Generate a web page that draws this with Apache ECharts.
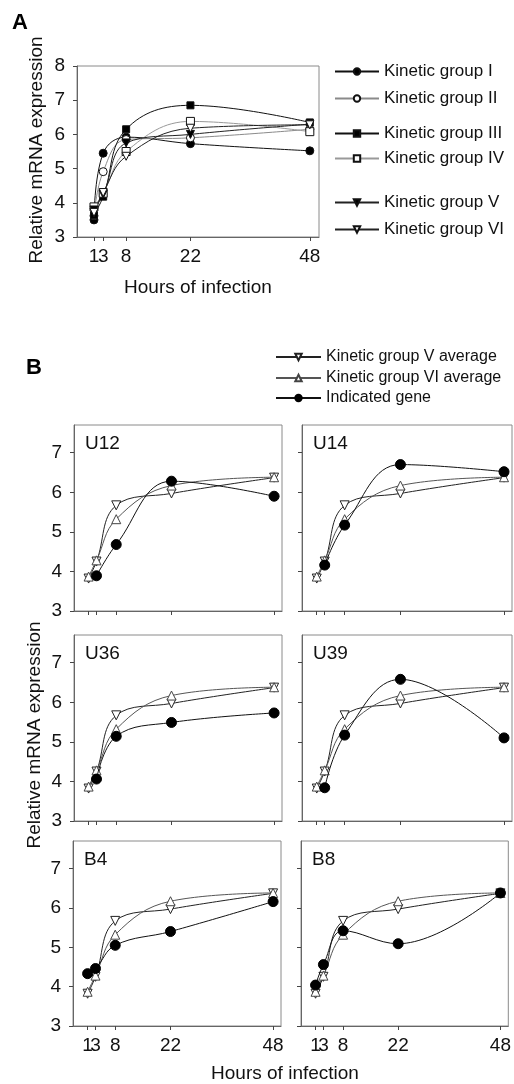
<!DOCTYPE html>
<html>
<head>
<meta charset="utf-8">
<script src="https://cdn.jsdelivr.net/npm/echarts@6/dist/echarts.min.js"></script>
<style>
html,body{margin:0;padding:0;background:#fff;}
#chart{width:514px;height:1084px;}
</style>
</head>
<body>
<div id="chart"></div>
<script>
// ---- data ----
const hours = [1, 3, 8, 22, 48];
const xTickValues = [1, 3, 8, 22, 48];
const yTicksA = [3, 4, 5, 6, 7, 8];
const yTicksB = [3, 4, 5, 6, 7];

const groupNames = ['Kinetic group I', 'Kinetic group II', 'Kinetic group III', 'Kinetic group IV', 'Kinetic group V', 'Kinetic group VI'];
const groupI   = [3.50, 5.45, 5.92, 5.73, 5.52];
const groupII  = [3.62, 4.91, 5.85, 5.90, 6.15];
const groupIII = [3.64, 4.18, 6.15, 6.85, 6.35];
const groupIV  = [3.88, 4.28, 5.50, 6.38, 6.08];
const groupV   = [3.79, 4.25, 5.75, 6.00, 6.30];
const groupVI  = [3.72, 4.30, 5.36, 6.18, 6.28];

const legendB = ['Kinetic group V average', 'Kinetic group VI average', 'Indicated gene'];
const avgV  = [3.82, 4.25, 5.67, 5.97, 6.37];
const avgVI = [3.87, 4.28, 5.32, 6.17, 6.38];

const panelNames = ['U12', 'U14', 'U36', 'U39', 'B4', 'B8'];
const geneU12 = [null, 3.89, 4.68, 6.28, 5.90];
const geneU14 = [null, 4.16, 5.17, 6.70, 6.52];
const geneU36 = [null, 4.06, 5.14, 5.49, 5.73];
const geneU39 = [null, 3.84, 5.17, 6.58, 5.10];
const geneB4  = [4.33, 4.46, 5.05, 5.40, 6.16];
const geneB8  = [4.04, 4.56, 5.42, 5.09, 6.38];
const genes = [geneU12, geneU14, geneU36, geneU39, geneB4, geneB8];

// labels split over two axes so the close "1" and "3" are both drawn
const xLabelsMain = xTickValues.filter((v, i) => i % 2 === 0 || i === 3);   // 1, 8, 22, 48
const xLabelsExtra = xTickValues.filter(v => xLabelsMain.indexOf(v) < 0);   // 3

// ---- layout ----
const FONT = 'Liberation Sans, Arial, Helvetica, sans-serif';
const gridA = {left: 77, top: 66, width: 242, height: 171};
const gridsB = [
  {left: 74, top: 425, width: 208, height: 186},
  {left: 302, top: 425, width: 210, height: 186},
  {left: 74, top: 635, width: 208, height: 186},
  {left: 302, top: 635, width: 210, height: 186},
  {left: 73, top: 841, width: 208, height: 185},
  {left: 301, top: 841, width: 211, height: 185}
];

function pairs(vals) {
  const out = [];
  vals.forEach((v, i) => { if (v !== null) out.push([hours[i], v]); });
  return out;
}

const grids = [gridA].concat(gridsB).map(g => Object.assign({
  show: true, borderColor: '#8a8a8a', borderWidth: 1, containLabel: false, backgroundColor: 'transparent'
}, g));

function xAxisFor(i, showLabel, labels, lineShow) {
  return {
    type: 'value', gridIndex: i, min: -2.7, max: 50, position: 'bottom', offset: 0,
    axisLine: {show: lineShow, onZero: false, lineStyle: {color: '#666', width: 1}},
    axisTick: {show: lineShow, inside: false, length: 4, customValues: xTickValues, lineStyle: {color: '#444'}},
    axisLabel: {show: showLabel, customValues: labels, hideOverlap: false,
      fontSize: 19, color: '#111', fontFamily: FONT, margin: 10},
    splitLine: {show: false}
  };
}
function yAxisFor(i, showLabel, maxV, ticks) {
  return {
    type: 'value', gridIndex: i, min: 3, max: maxV, position: 'left',
    axisLine: {show: true, onZero: false, lineStyle: {color: '#666', width: 1}},
    axisTick: {show: true, inside: false, length: 4, customValues: ticks, lineStyle: {color: '#444'}},
    axisLabel: {show: showLabel, customValues: ticks, hideOverlap: false,
      fontSize: 19, color: '#111', fontFamily: FONT, margin: 12},
    splitLine: {show: false}
  };
}

const xAxes = [xAxisFor(0, true, xLabelsMain, true)];
const yAxes = [yAxisFor(0, true, 8, yTicksA)];
gridsB.forEach((g, k) => {
  xAxes.push(xAxisFor(k + 1, k >= 4, xLabelsMain, true));
  yAxes.push(yAxisFor(k + 1, k % 2 === 0, 7.7, yTicksB));
});
// extra label-only axes
[0, 5, 6].forEach(gi => xAxes.push(xAxisFor(gi, true, xLabelsExtra, false)));

const styleA = [
  {vals: groupI,   symbol: 'circle',   rot: 0,   fill: '#000', line: '#111', size: 8},
  {vals: groupII,  symbol: 'circle',   rot: 0,   fill: '#fff', line: '#8a8a8a', size: 8},
  {vals: groupIII, symbol: 'rect',     rot: 0,   fill: '#000', line: '#111', size: 7},
  {vals: groupIV,  symbol: 'rect',     rot: 0,   fill: '#fff', line: '#999', size: 8},
  {vals: groupV,   symbol: 'triangle', rot: 180, fill: '#000', line: '#222', size: 8},
  {vals: groupVI,  symbol: 'triangle', rot: 180, fill: '#fff', line: '#222', size: 8}
];

const series = [];
styleA.forEach((s, i) => {
  series.push({
    name: groupNames[i], type: 'line', xAxisIndex: 0, yAxisIndex: 0,
    data: pairs(s.vals), smooth: 0.4,
    symbol: s.symbol, symbolRotate: s.rot, symbolSize: s.size, showAllSymbol: true,
    lineStyle: {color: s.line, width: 1},
    itemStyle: {color: s.fill, borderColor: '#111', borderWidth: 1}
  });
});

gridsB.forEach((g, k) => {
  const ax = k + 1;
  series.push({
    name: legendB[0], type: 'line', xAxisIndex: ax, yAxisIndex: ax,
    data: pairs(avgV), smooth: 0.4, symbol: 'triangle', symbolRotate: 180, symbolSize: 9,
    lineStyle: {color: '#222', width: 1},
    itemStyle: {color: '#fff', borderColor: '#222', borderWidth: 1}, z: 2
  });
  series.push({
    name: legendB[1], type: 'line', xAxisIndex: ax, yAxisIndex: ax,
    data: pairs(avgVI), smooth: 0.4, symbol: 'triangle', symbolRotate: 0, symbolSize: 9,
    lineStyle: {color: '#555', width: 1},
    itemStyle: {color: '#fff', borderColor: '#444', borderWidth: 1}, z: 3
  });
  series.push({
    name: legendB[2], type: 'line', xAxisIndex: ax, yAxisIndex: ax,
    data: pairs(genes[k]), smooth: 0.4, symbol: 'circle', symbolSize: 10,
    lineStyle: {color: '#111', width: 1},
    itemStyle: {color: '#000', borderColor: '#000', borderWidth: 1}, z: 4
  });
});

const legendTopsA = [72, 99, 134, 159, 203, 230];
const legendTopsB = [357, 378, 398];
const legends = [];
groupNames.forEach((n, i) => {
  legends.push({
    data: [n], left: 334, top: legendTopsA[i] - 9, orient: 'vertical', padding: 0,
    itemWidth: 44, itemHeight: 8, selectedMode: false,
    textStyle: {fontSize: 17, color: '#111', fontFamily: FONT}
  });
});
legendB.forEach((n, i) => {
  legends.push({
    data: [n], left: 275, top: legendTopsB[i] - 8, orient: 'vertical', padding: 0,
    itemWidth: 45, itemHeight: 8, selectedMode: false,
    textStyle: {fontSize: 16, color: '#111', fontFamily: FONT}
  });
});

const graphics = [
  {type: 'text', left: 12, top: 12, style: {text: 'A', font: 'bold 22px ' + FONT, fill: '#000'}},
  {type: 'text', left: 26, top: 357, style: {text: 'B', font: 'bold 22px ' + FONT, fill: '#000'}},
  {type: 'text', x: 37, y: 150, rotation: Math.PI / 2,
   style: {text: 'Relative mRNA expression', font: '19px ' + FONT, fill: '#111', align: 'center', verticalAlign: 'middle'}},
  {type: 'text', x: 198, y: 288,
   style: {text: 'Hours of infection', font: '19px ' + FONT, fill: '#111', align: 'center', verticalAlign: 'middle'}},
  {type: 'text', x: 35, y: 735, rotation: Math.PI / 2,
   style: {text: 'Relative mRNA expression', font: '19px ' + FONT, fill: '#111', align: 'center', verticalAlign: 'middle'}},
  {type: 'text', x: 285, y: 1074,
   style: {text: 'Hours of infection', font: '19px ' + FONT, fill: '#111', align: 'center', verticalAlign: 'middle'}}
];
gridsB.forEach((g, k) => {
  graphics.push({type: 'text', left: g.left + 11, top: g.top + 9,
    style: {text: panelNames[k], font: '19px ' + FONT, fill: '#111'}});
});

const chart = echarts.init(document.getElementById('chart'), null, {renderer: 'canvas'});
chart.setOption({
  animation: false,
  backgroundColor: '#fff',
  grid: grids,
  xAxis: xAxes,
  yAxis: yAxes,
  legend: legends,
  series: series,
  graphic: graphics
});
</script>
</body>
</html>
